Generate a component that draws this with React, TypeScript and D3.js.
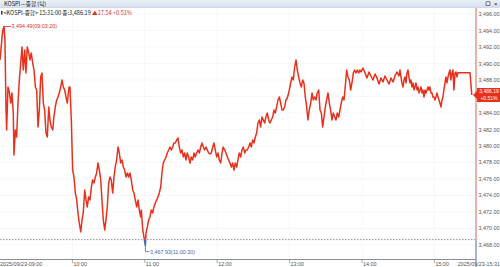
import React from "react";
import * as d3 from "d3";

// ---- data (minutes after 09:00, index value) ----
const PREV_CLOSE = 3468.65;
const LAST_PRICE = 3486.19;
const LAST_CHANGE = "▲17.54 +0.51%";
const HIGH_POINT = { t: 3.33, v: 3494.49, label: "3,494.49(09:03:20)" };
const LOW_POINT = { t: 120.5, v: 3467.93, label: "3,467.93(11:00:30)" };

const ticks0900: [number, number][] = [
  [0, 3490.43], [1.1, 3492.2], [2.2, 3494.0], [3.33, 3494.49], [4.1, 3492.85], [5.0, 3484.37], [5.5, 3481.94],
  [6.6, 3487.15], [7.7, 3486.55], [8.9, 3485.21], [9.9, 3486.43], [11.0, 3484.0], [11.6, 3478.91], [12.7, 3481.94],
  [13.8, 3481.09], [14.9, 3485.21], [16.0, 3488.0], [17.2, 3490.06], [18.2, 3492.0], [19.3, 3489.21], [20.5, 3491.64],
  [21.5, 3488.85], [22.6, 3492.0], [23.8, 3491.28], [24.9, 3490.43], [25.9, 3491.28], [27.1, 3490.06], [28.2, 3489.21],
  [29.3, 3487.15], [30.4, 3486.79], [31.5, 3482.31], [32.6, 3484.37], [33.7, 3488.37], [34.8, 3488.85], [35.9, 3485.21],
  [37.0, 3484.37], [38.1, 3481.58], [39.2, 3481.09], [40.4, 3484.73], [41.4, 3483.15], [42.5, 3482.31], [43.7, 3481.94],
  [44.7, 3483.52], [45.8, 3484.73], [47.0, 3485.58], [48.1, 3485.94], [49.1, 3486.43], [50.3, 3487.15], [51.4, 3488.0],
  [52.5, 3487.15], [53.6, 3486.79], [54.7, 3485.94], [55.8, 3485.21], [56.9, 3486.79], [57.4, 3487.15], [58.0, 3487.15],
  [59.1, 3483.15],
];
const ticks1000: [number, number][] = [
  [60.2, 3477.09], [61.3, 3476.25], [62.4, 3474.31], [63.6, 3473.46], [64.6, 3471.88], [65.7, 3470.67], [66.9, 3469.58],
  [68.0, 3471.03], [69.0, 3471.88], [70.2, 3474.67], [71.3, 3473.46], [72.3, 3472.61], [73.5, 3473.82], [74.6, 3473.46],
  [75.7, 3475.03], [76.8, 3475.88], [77.9, 3475.52], [79.0, 3476.25], [80.1, 3476.73], [81.2, 3477.94], [82.3, 3477.09],
  [83.5, 3475.88], [84.5, 3473.46], [85.6, 3471.03], [86.8, 3469.82], [87.8, 3471.03], [88.9, 3472.61], [90.1, 3475.52],
  [91.2, 3476.25], [92.2, 3475.88], [93.4, 3474.31], [94.5, 3476.25], [95.5, 3477.46], [96.7, 3478.31], [97.8, 3479.88],
  [98.9, 3479.15], [100.0, 3477.94], [101.1, 3478.31], [102.2, 3477.46], [103.3, 3477.09], [104.4, 3476.25], [105.5, 3476.73],
  [106.7, 3476.25], [107.7, 3476.73], [108.8, 3475.88], [110.0, 3474.67], [111.0, 3474.31], [112.1, 3473.46], [113.3, 3472.61],
  [114.4, 3473.46], [115.4, 3472.25], [116.6, 3471.4], [117.1, 3472.25], [118.3, 3469.82], [119.3, 3468.97], [119.9, 3468.37],
];
const ticks1100: [number, number][] = [
  [120.5, 3467.93], [121.0, 3469.46], [122.1, 3470.19], [123.2, 3471.03], [124.3, 3471.4], [125.4, 3472.25], [126.5, 3471.88],
  [127.6, 3472.61], [128.7, 3473.09], [129.9, 3473.46], [130.9, 3473.82], [132.0, 3474.31], [133.2, 3475.03], [134.2, 3476.73],
  [135.3, 3477.94], [136.5, 3478.31], [137.6, 3478.67], [138.6, 3479.15], [139.8, 3479.52], [140.9, 3479.88], [142.0, 3479.52],
  [143.1, 3479.88], [144.2, 3480.37], [145.3, 3480.37], [146.4, 3480.73], [147.5, 3480.97], [148.6, 3479.88], [149.7, 3479.15],
  [150.8, 3479.52], [151.9, 3478.67], [153.0, 3479.15], [154.1, 3478.31], [155.2, 3479.15], [156.3, 3478.67], [157.5, 3477.94],
  [158.5, 3478.67], [159.7, 3478.31], [160.8, 3479.15], [161.8, 3478.67], [163.0, 3479.15], [164.1, 3479.52], [165.2, 3479.15],
  [166.3, 3479.88], [167.4, 3480.37], [168.5, 3479.88], [169.6, 3479.52], [170.7, 3479.88], [171.8, 3479.52], [172.9, 3479.15],
  [174.0, 3479.03], [175.1, 3479.15], [176.3, 3479.88], [177.3, 3480.37], [178.4, 3479.52], [179.6, 3478.67],
];
const ticks1200: [number, number][] = [
  [180.7, 3479.15], [181.7, 3478.31], [182.9, 3477.94], [184.0, 3479.15], [185.0, 3479.88], [186.2, 3479.52], [187.3, 3479.15],
  [188.4, 3478.67], [189.5, 3478.31], [190.6, 3477.94], [191.7, 3477.46], [192.8, 3477.94], [193.9, 3477.09], [195.0, 3477.94],
  [196.2, 3477.46], [197.2, 3478.31], [198.3, 3479.15], [199.5, 3478.67], [200.5, 3479.52], [201.6, 3479.88], [202.8, 3479.15],
  [203.9, 3479.52], [204.9, 3479.52], [206.1, 3479.88], [207.2, 3480.37], [208.3, 3479.88], [209.4, 3480.73], [210.5, 3480.37],
  [211.6, 3481.09], [212.7, 3481.58], [213.8, 3482.79], [214.9, 3483.15], [216.0, 3482.31], [217.1, 3483.52], [218.2, 3483.15],
  [219.3, 3482.79], [220.4, 3483.52], [221.5, 3484.0], [222.7, 3483.15], [223.7, 3482.79], [224.8, 3483.15], [226.0, 3483.52],
  [227.1, 3484.37], [228.1, 3484.0], [229.3, 3484.73], [230.4, 3485.58], [231.5, 3485.94], [232.6, 3485.21], [233.7, 3484.37],
  [234.8, 3484.37], [235.9, 3484.73], [237.0, 3485.58], [238.1, 3485.82], [239.2, 3486.43],
];
const ticks1300: [number, number][] = [
  [240.3, 3487.15], [240.9, 3487.64], [242.0, 3488.37], [243.1, 3488.0], [244.2, 3489.58], [245.3, 3490.43], [246.4, 3489.21],
  [247.5, 3488.37], [248.6, 3487.64], [249.7, 3487.15], [250.8, 3488.0], [251.9, 3487.64], [253.0, 3485.94], [254.2, 3484.73],
  [255.2, 3483.15], [256.3, 3484.37], [257.5, 3485.21], [258.6, 3486.43], [259.6, 3485.58], [260.8, 3485.94], [261.9, 3485.58],
  [262.9, 3486.43], [264.1, 3486.79], [265.2, 3484.37], [266.3, 3484.0], [267.4, 3482.31], [268.5, 3483.52], [269.6, 3484.73],
  [270.7, 3485.58], [271.8, 3486.43], [272.9, 3485.21], [274.0, 3484.37], [275.1, 3483.15], [276.2, 3484.0], [277.4, 3483.52],
  [278.4, 3483.15], [279.5, 3484.0], [280.7, 3483.52], [281.8, 3484.37], [282.8, 3485.21], [284.0, 3485.94], [285.1, 3485.58],
  [286.1, 3487.15], [287.3, 3489.21], [288.4, 3488.37], [289.5, 3488.0], [290.6, 3486.79], [291.7, 3487.64], [292.8, 3488.85],
  [293.9, 3489.21], [295.0, 3488.85], [296.1, 3489.21], [297.3, 3488.85], [298.3, 3489.21], [299.2, 3488.97],
];
const ticks1400: [number, number][] = [
  [300.8, 3489.46], [302.5, 3488.85], [304.1, 3488.25], [305.8, 3488.97], [307.4, 3488.49], [309.1, 3488.0], [310.8, 3488.73],
  [312.4, 3488.25], [314.1, 3487.52], [315.7, 3488.25], [317.4, 3487.76], [319.0, 3488.49], [320.7, 3488.0], [322.4, 3487.52],
  [324.0, 3488.25], [325.7, 3487.76], [327.3, 3488.49], [329.0, 3488.97], [330.6, 3488.49], [331.5, 3489.21], [332.3, 3488.37],
  [333.1, 3487.64], [334.0, 3487.15], [334.8, 3488.0], [335.6, 3488.37], [336.5, 3487.64], [337.3, 3488.85], [338.1, 3489.21],
  [338.9, 3488.37], [339.8, 3487.64], [340.6, 3488.0], [341.4, 3487.15], [342.3, 3487.64], [343.1, 3486.79], [343.9, 3487.15],
  [344.7, 3487.64], [345.6, 3486.79], [346.4, 3487.15], [347.2, 3486.43], [348.1, 3486.79], [348.9, 3487.15], [349.7, 3486.43],
  [350.5, 3486.79], [351.4, 3485.94], [352.2, 3486.79], [353.0, 3486.43], [353.9, 3486.79], [354.7, 3487.15], [355.5, 3486.79],
  [356.3, 3487.15], [357.2, 3486.43], [358.0, 3486.43], [358.8, 3485.94], [359.7, 3485.94],
];
const ticks1500: [number, number][] = [
  [360.5, 3485.58], [361.3, 3485.94], [362.1, 3486.43], [363.0, 3485.94], [363.8, 3485.58], [364.6, 3485.21], [365.5, 3484.73],
  [366.3, 3485.58], [367.1, 3485.94], [367.9, 3486.79], [368.8, 3487.64], [369.6, 3488.37], [370.4, 3487.64], [371.3, 3488.37],
  [372.1, 3488.85], [372.9, 3489.21], [373.7, 3488.0], [374.6, 3488.85], [375.4, 3489.21], [376.2, 3486.79], [377.1, 3488.85],
  [377.9, 3488.97], [378.7, 3488.37], [379.5, 3488.89], [389.5, 3488.89], [391.0, 3486.19],
];

const Y_TICKS = [3496, 3494, 3492, 3490, 3488, 3486, 3484, 3482, 3480, 3478, 3476, 3474, 3472, 3470, 3468];
const X_TICK_MIN = [0, 60, 120, 180, 240, 300, 360, 391];
const X_TICK_LABELS = ["2025/09/23-09:00", "10:00", "11:00", "12:00", "13:00", "14:00", "15:00", "2025/09/23-15:31"];

const W = 500, H = 267;
const PLOT_R = 476, PLOT_B = 259, PLOT_T = 8;
const RED = "#e8301c";
const BLUE = "#4a66b0";
const FONT = "'Liberation Sans', Arial, sans-serif";
const KFONT = "'Noto Sans CJK KR', 'Liberation Sans', sans-serif";

export default function App() {
  const data = [...ticks0900, ...ticks1000, ...ticks1100, ...ticks1200, ...ticks1300, ...ticks1400, ...ticks1500];
  const x = d3.scaleLinear().domain([0, 391]).range([0, 471.8]);
  const y = d3.scaleLinear().domain([3466.3, 3497.7]).range([PLOT_B, 0]);
  const line = d3.line<[number, number]>().x((d) => x(d[0])).y((d) => y(d[1]));
  const path = line(data) || "";
  const yPrev = y(PREV_CLOSE);
  const yLast = y(LAST_PRICE);
  const hx = x(HIGH_POINT.t), hy = y(HIGH_POINT.v);
  const lx = x(LOW_POINT.t), ly = y(LOW_POINT.v);

  return (
    <div style={{ position: "fixed", left: 0, top: 0, width: W, height: H, background: "#fff" }}>
      <svg width={W} height={H} style={{ display: "block" }}>
        <defs>
          <clipPath id="above"><rect x={0} y={0} width={PLOT_R} height={yPrev} /></clipPath>
          <clipPath id="below"><rect x={0} y={yPrev} width={PLOT_R} height={PLOT_B - yPrev + 5} /></clipPath>
          <linearGradient id="tbar" x1="0" y1="0" x2="0" y2="1">
            <stop offset="0" stopColor="#e9f0f8" />
            <stop offset="1" stopColor="#d5e1ee" />
          </linearGradient>
        </defs>
        <rect x={0} y={0} width={W} height={H} fill="#fff" />
        {/* grid */}
        {Y_TICKS.map((v) => (
          <line key={"gy" + v} x1={0} x2={PLOT_R} y1={y(v)} y2={y(v)} stroke="#e9edf2" strokeWidth={0.8} strokeDasharray="1,1" />
        ))}
        {X_TICK_MIN.slice(1, 7).map((m) => (
          <line key={"gx" + m} x1={x(m)} x2={x(m)} y1={PLOT_T} y2={PLOT_B} stroke="#e9edf2" strokeWidth={0.8} strokeDasharray="1,1" />
        ))}
        {/* prev close */}
        <line x1={0} x2={PLOT_R} y1={yPrev} y2={yPrev} stroke="#777" strokeWidth={0.8} strokeDasharray="1.5,1.5" />
        {/* price line */}
        <path d={path} fill="none" stroke={RED} strokeWidth={1.5} strokeLinejoin="round" clipPath="url(#above)" />
        <path d={path} fill="none" stroke={BLUE} strokeWidth={1.5} strokeLinejoin="round" clipPath="url(#below)" />
        {/* high annotation */}
        <path d={`M${hx},${hy + 8}V${hy}H${hx + 7}`} fill="none" stroke={RED} strokeWidth={0.8} />
        <text x={hx + 7.5} y={hy + 2} fontFamily={FONT} fontSize={5.4} fill={RED}>{HIGH_POINT.label}</text>
        {/* low annotation */}
        <path d={`M${lx},${ly - 4}V${ly + 6}H${lx + 4}`} fill="none" stroke={BLUE} strokeWidth={0.8} />
        <text x={lx + 4.5} y={ly + 8} fontFamily={FONT} fontSize={5.4} fill={BLUE}>{LOW_POINT.label}</text>
        {/* bottom axis */}
        <line x1={0} x2={PLOT_R} y1={PLOT_B + 0.5} y2={PLOT_B + 0.5} stroke="#8a8f96" strokeWidth={1} />
        {X_TICK_MIN.map((m, i) => (
          <g key={"xt" + m}>
            {i > 0 && i < 7 && <line x1={x(m)} x2={x(m)} y1={PLOT_B + 1} y2={PLOT_B + 4} stroke="#8a8f96" strokeWidth={0.8} />}
            <text x={i === 0 ? 0 : i === 7 ? W : x(m) + 1} y={PLOT_B + 6.5} textAnchor={i === 7 ? "end" : "start"}
              fontFamily={FONT} fontSize={5.4} fill="#555">{X_TICK_LABELS[i]}</text>
          </g>
        ))}
        {/* right axis */}
        <line x1={PLOT_R} x2={PLOT_R} y1={PLOT_T} y2={yPrev} stroke="#e07a70" strokeWidth={1.2} />
        <line x1={PLOT_R} x2={PLOT_R} y1={yPrev} y2={H} stroke="#6a86b8" strokeWidth={1.2} />
        {Y_TICKS.filter((v) => Math.abs(y(v) - yLast) > 8).map((v) => (
          <text key={"yl" + v} x={PLOT_R + 2.5} y={y(v) + 2} fontFamily={FONT} fontSize={5.4} fill="#555">
            {d3.format(",.2f")(v)}
          </text>
        ))}
        {/* last price box */}
        <path d={`M${PLOT_R - 3},${yLast}L${PLOT_R + 1},${yLast - 4}V${yLast - 7}H${W}V${yLast + 7}H${PLOT_R + 1}V${yLast + 4}Z`} fill={RED} />
        <text x={PLOT_R + 13} y={yLast - 1.5} textAnchor="middle" fontFamily={FONT} fontSize={5} fill="#fff">
          {d3.format(",.2f")(LAST_PRICE)}
        </text>
        <text x={PLOT_R + 13} y={yLast + 5.3} textAnchor="middle" fontFamily={FONT} fontSize={5} fill="#fff">+0.51%</text>
        {/* header */}
        <rect x={0} y={0} width={W} height={7.5} fill="url(#tbar)" />
        <line x1={0} x2={W} y1={7.5} y2={7.5} stroke="#b9c7d6" strokeWidth={0.5} />
        <text x={4} y={5.8} fontFamily={KFONT} fontSize={5.6} fill="#222">KOSPI－종합 (틱)</text>
        <rect x={486} y={1.8} width={4} height={3.5} fill="none" stroke="#334" strokeWidth={0.6} />
        <text x={494} y={5.8} fontFamily={FONT} fontSize={6} fill="#223">×</text>
        <rect x={1} y={11} width={1.5} height={3.5} fill="#333" />
        <text x={3.5} y={14.6} fontFamily={KFONT} fontSize={5.6} fill="#222">
          {"<KOSPI-종합> 15:31:00 종:3,486.19 "}
          <tspan fill={RED}>{LAST_CHANGE}</tspan>
        </text>
      </svg>
    </div>
  );
}
